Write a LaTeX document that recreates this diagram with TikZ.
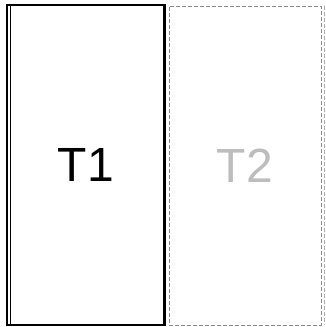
\documentclass[tikz,border=0pt]{standalone}
\usepackage{fontspec}
\setmainfont{Liberation Sans}
\usepackage{tikz}
\usetikzlibrary{calc}
\definecolor{fadegray}{HTML}{BDBDBD}
\definecolor{dashgray}{HTML}{8C8C8C}
\tikzset{
  tab/.style={draw,inner sep=0pt,font=\fontsize{48}{50}\selectfont},
  ghost/.style={dashed,dash pattern=on 4pt off 2pt,line width=0.8pt}
}
\begin{document}
\begin{tikzpicture}[x=1pt,y=-1pt]
  \useasboundingbox (0,0) rectangle (326,327);
  \node[tab,line width=1.4pt,minimum width=158pt,minimum height=320pt] (t1) at (86,165) {T1};
  \node[tab,ghost,draw=dashgray,text=fadegray,minimum width=152pt,minimum height=319pt] (t2) at (245,165.5) {T2};
  \draw[line width=1pt] ($(t1.north west)+(4,0)$) -- ($(t1.south west)+(4,0)$);
  \draw[line width=3pt] ($(t1.north east)+(-0.8,0)$) -- ($(t1.south east)+(-0.8,0)$);
  \draw[ghost,draw=dashgray!70] ($(t2.north east)+(3,0)$) -- ($(t2.south east)+(3,0)$);
\end{tikzpicture}
\end{document}
